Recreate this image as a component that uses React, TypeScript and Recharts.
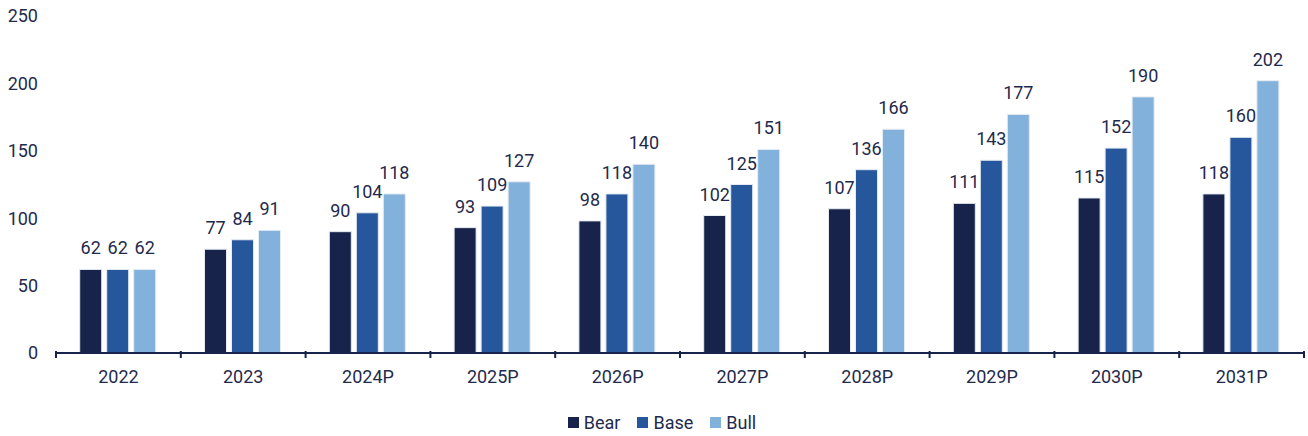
import React from "react";
import { BarChart, Bar, XAxis, YAxis, Legend, LabelList } from "recharts";

const years = ["2022", "2023", "2024P", "2025P", "2026P", "2027P", "2028P", "2029P", "2030P", "2031P"];
const bear = [62, 77, 90, 93, 98, 102, 107, 111, 115, 118];
const base = [62, 84, 104, 109, 118, 125, 136, 143, 152, 160];
const bull = [62, 91, 118, 127, 140, 151, 166, 177, 190, 202];
const yTicks = [0, 50, 100, 150, 200, 250];

const TEXT = "#1f2a4d";
const AXIS = "#17234a";
const COLORS = { bear: "#17234a", base: "#26579c", bull: "#82b1dc" };

const W = 1308;
const H = 436;
const LEFT = 56;
const RIGHT = 4;
const BAND = (W - LEFT - RIGHT) / years.length;

const data = years.map((year, i) => ({ year, bear: bear[i], base: base[i], bull: bull[i] }));

// category label plus boundary tick marks between categories
function CategoryTick(props: any) {
  const { x, y, payload, index } = props;
  const left = x - BAND / 2;
  return (
    <g>
      <line x1={left} x2={left} y1={y - 10} y2={y - 3} stroke={AXIS} strokeWidth={2} />
      {index === years.length - 1 && (
        <line x1={left + BAND} x2={left + BAND} y1={y - 10} y2={y - 3} stroke={AXIS} strokeWidth={2} />
      )}
      <text x={x} y={y + 22} textAnchor="middle" fill={TEXT} fontSize={18}>
        {payload.value}
      </text>
    </g>
  );
}

function LegendContent() {
  const items = [
    { name: "Bear", color: COLORS.bear },
    { name: "Base", color: COLORS.base },
    { name: "Bull", color: COLORS.bull },
  ];
  return (
    <div
      style={{ display: "flex", justifyContent: "center", gap: 17, fontSize: 18, color: TEXT, paddingTop: 9, paddingLeft: 20 }}
    >
      {items.map((it) => (
        <span key={it.name} style={{ display: "flex", alignItems: "center" }}>
          <span style={{ width: 11, height: 11, background: it.color, marginRight: 5, display: "inline-block" }} />
          {it.name}
        </span>
      ))}
    </div>
  );
}

export default function App() {
  return (
    <div style={{ position: "absolute", left: 0, top: 0, fontFamily: "Roboto, sans-serif" }}>
      <BarChart
        width={W}
        height={H}
        data={data}
        margin={{ top: 16, right: RIGHT, left: 0, bottom: 0 }}
        barCategoryGap="19%"
        barGap={5}
      >
        <XAxis
          dataKey="year"
          axisLine={{ stroke: AXIS, strokeWidth: 2 }}
          tickLine={false}
          tick={<CategoryTick />}
          interval={0}
          height={50}
        />
        <YAxis
          domain={[0, 250]}
          ticks={yTicks}
          width={LEFT}
          axisLine={false}
          tickLine={false}
          tickSize={0}
          tickMargin={18}
          tick={{ fill: TEXT, fontSize: 18 }}
        />
        <Legend verticalAlign="bottom" height={33} content={<LegendContent />} />
        <Bar dataKey="bear" name="Bear" fill={COLORS.bear} stroke="#e6ebf2" strokeWidth={1} isAnimationActive={false}>
          <LabelList dataKey="bear" position="top" offset={15} fill={TEXT} fontSize={18} />
        </Bar>
        <Bar dataKey="base" name="Base" fill={COLORS.base} stroke="#e6ebf2" strokeWidth={1} isAnimationActive={false}>
          <LabelList dataKey="base" position="top" offset={15} fill={TEXT} fontSize={18} />
        </Bar>
        <Bar dataKey="bull" name="Bull" fill={COLORS.bull} stroke="#e6ebf2" strokeWidth={1} isAnimationActive={false}>
          <LabelList dataKey="bull" position="top" offset={15} fill={TEXT} fontSize={18} />
        </Bar>
      </BarChart>
    </div>
  );
}
